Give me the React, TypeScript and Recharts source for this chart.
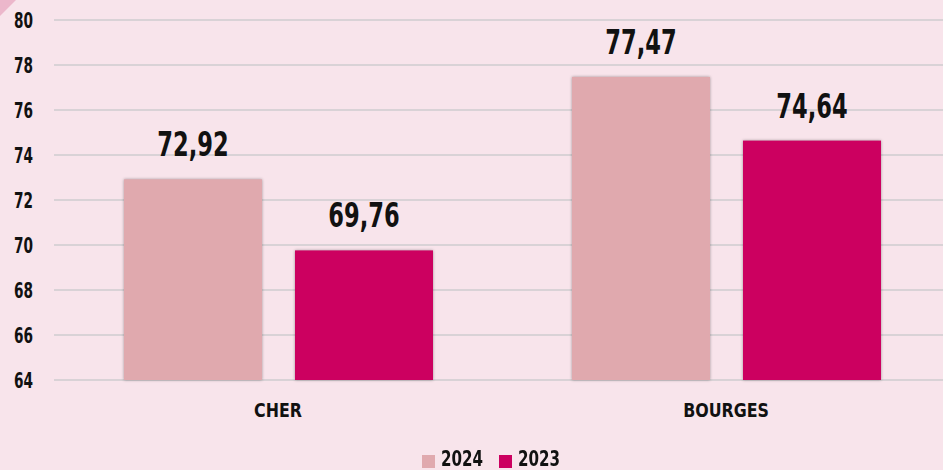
import { BarChart, Bar, XAxis, YAxis, CartesianGrid, LabelList, Legend } from 'recharts'

const categories = ['CHER', 'BOURGES']
const values2024 = [72.92, 77.47]
const values2023 = [69.76, 74.64]
const yTicks = [64, 66, 68, 70, 72, 74, 76, 78, 80]
const seriesNames = ['2024', '2023']

const FONT = "'DejaVu Sans Condensed', 'DejaVu Sans', sans-serif"
const BG = '#f8e4eb'
const C2024 = '#e0a9ae'
const C2023 = '#cc0060'

const data = categories.map((name, i) => ({
  name,
  y2024: values2024[i],
  y2023: values2023[i],
}))

const fmt = (v: any) => String(v).replace('.', ',')

// the reference uses a narrow display face, so squeeze DejaVu horizontally
const YTick = ({ x, y, payload }: any) => (
  <text
    transform={`translate(${x},${y}) scale(0.69,1)`}
    textAnchor="end"
    dy="0.36em"
    fontFamily={FONT}
    fontWeight="bold"
    fontSize={22}
    fill="#111"
  >
    {payload.value}
  </text>
)

const XTick = ({ x, y, payload }: any) => (
  <text
    transform={`translate(${x},${y}) scale(0.88,1)`}
    textAnchor="middle"
    dy="0.75em"
    fontFamily={FONT}
    fontWeight="bold"
    fontSize={20}
    fill="#111"
  >
    {payload.value}
  </text>
)

const BarValue = ({ x, y, width, value }: any) => (
  <text
    transform={`translate(${x + width / 2},${y - 23}) scale(0.76,1)`}
    textAnchor="middle"
    fontFamily={FONT}
    fontWeight="bold"
    fontSize={33}
    fill="#111"
  >
    {fmt(value)}
  </text>
)

const ShadowBar = ({ x, y, width, height, fill }: any) => (
  <rect
    x={x}
    y={y}
    width={width}
    height={height}
    fill={fill}
    style={{ filter: 'drop-shadow(0 0 1.5px rgba(0,0,0,0.35))' }}
  />
)

const renderLegend = () => (
  <div style={{ position: 'relative', width: 950, height: 30 }}>
    {[
      { label: seriesNames[0], color: C2024, left: 422 },
      { label: seriesNames[1], color: C2023, left: 499 },
    ].map((item) => (
      <div key={item.label}>
        <span
          style={{
            position: 'absolute',
            left: item.left,
            top: 15,
            width: 13,
            height: 13,
            background: item.color,
          }}
        />
        <span
          style={{
            position: 'absolute',
            left: item.left + 19,
            top: 9,
            fontFamily: FONT,
            fontWeight: 'bold',
            fontSize: 21,
            lineHeight: '21px',
            color: '#111',
            transform: 'scaleX(0.8)',
            transformOrigin: 'left',
          }}
        >
          {item.label}
        </span>
      </div>
    ))}
  </div>
)

export default function App() {
  return (
    <div
      style={{
        position: 'fixed',
        top: 0,
        left: 0,
        width: 943,
        height: 470,
        overflow: 'hidden',
        background: BG,
      }}
    >
      <div
        style={{
          position: 'absolute',
          top: 0,
          left: 0,
          width: 0,
          height: 0,
          borderTop: '16px solid #ecb7cb',
          borderRight: '16px solid transparent',
        }}
      />
      <BarChart
        width={950}
        height={470}
        data={data}
        margin={{ top: 20, right: 0, bottom: 0, left: 0 }}
        barSize={138}
        barGap={33}
      >
        <CartesianGrid vertical={false} stroke="#d9d2d6" strokeWidth={2} />
        <XAxis
          dataKey="name"
          axisLine={false}
          tickLine={false}
          tickSize={0}
          tickMargin={22}
          height={60}
          tick={<XTick />}
        />
        <YAxis
          domain={[64, 80]}
          ticks={yTicks}
          interval={0}
          axisLine={false}
          tickLine={false}
          tickSize={0}
          tickMargin={21}
          width={54}
          tick={<YTick />}
        />
        <Legend verticalAlign="bottom" height={30} content={renderLegend} />
        <Bar dataKey="y2024" name={seriesNames[0]} fill={C2024} shape={<ShadowBar />} isAnimationActive={false}>
          <LabelList dataKey="y2024" content={<BarValue />} />
        </Bar>
        <Bar dataKey="y2023" name={seriesNames[1]} fill={C2023} shape={<ShadowBar />} isAnimationActive={false}>
          <LabelList dataKey="y2023" content={<BarValue />} />
        </Bar>
      </BarChart>
    </div>
  )
}
